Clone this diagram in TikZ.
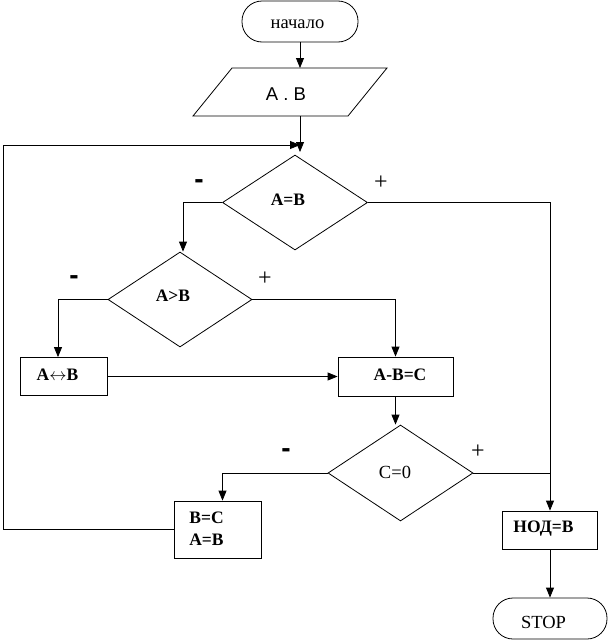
\documentclass[tikz,border=0pt]{standalone}
\usepackage{fontspec}
\setmainfont{Liberation Serif}
\newfontfamily\arialf{Liberation Sans}
\usetikzlibrary{arrows.meta,shapes.geometric}
\begin{document}
\begin{tikzpicture}[x=1pt,y=-1pt,
  line width=0.8pt,
  arr/.style={-{Triangle[length=10pt,width=8pt]}},
  term/.style={draw,rounded corners=20pt,minimum width=#1,minimum height=41pt,inner sep=0pt},
  procbox/.style={draw,inner sep=0pt},
  decis/.style={draw,diamond,inner sep=0pt},
  btxt/.style={font=\fontsize{17.5}{20}\selectfont\bfseries,inner sep=0pt},
  rtxt/.style={font=\fontsize{18.5}{21}\selectfont,inner sep=0pt},
  sgn/.style={font=\fontsize{24}{26}\selectfont,inner sep=0pt},
  mns/.style={font=\arialf\fontsize{28}{30}\selectfont\bfseries,inner sep=0pt}]
\useasboundingbox (0,0) rectangle (608,640);
% start
\node[term=116pt] (start) at (300,21.5) {};
\node[rtxt] (tstart) at (297.5,24) {начало};
% input parallelogram
\draw (232,68) -- (387,68) -- (348,116) -- (193,116) -- cycle;
\node[rtxt,font=\arialf\fontsize{18.5}{21}\selectfont] (io) at (286,94) {A . B};
\coordinate (ioT) at (300,68);
\coordinate (ioB) at (300,116);
\coordinate (merge) at (300,152);
\coordinate (mergeL) at (300,145);
\coordinate (rail) at (3,145);
% decisions
\node[decis,minimum width=145pt,minimum height=95pt] (d1) at (295,202.5) {};
\node[btxt] (t1) at (288,200) {A=B};
\node[decis,minimum width=144pt,minimum height=95pt] (d2) at (180,299.5) {};
\node[btxt] (t2) at (173,296) {A>B};
\node[decis,minimum width=145pt,minimum height=96pt] (d3) at (400.5,473) {};
\node[rtxt] (t3) at (395,472) {C=0};
% boxes
\node[procbox,minimum width=87pt,minimum height=38pt] (swap) at (63.5,376.5) {};
\node[btxt] (tswap) at (57.5,375) {A$\leftrightarrow$B};
\node[procbox,minimum width=115pt,minimum height=39pt] (sub) at (395.5,376.5) {};
\node[btxt] (tsub) at (400,374.5) {A-B=C};
\node[procbox,minimum width=87pt,minimum height=57pt] (bc) at (217.5,529.5) {};
\node[btxt,align=left] (tbc) at (206.5,529) {B=C\\[2pt]A=B};
\node[procbox,minimum width=95pt,minimum height=38pt] (nod) at (550,530) {};
\node[btxt] (tnod) at (543.5,528.5) {НОД=В};
\node[term=114pt] (stop) at (550,618.5) {};
\node[rtxt] (tstop) at (543.5,622) {STOP};
% sign labels
\node[mns] (m1) at (199,184) {-};
\node[sgn] (p1) at (381,183) {+};
\node[mns] (m2) at (74,280) {-};
\node[sgn] (p2) at (265,279) {+};
\node[mns] (m3) at (286,453) {-};
\node[sgn] (p3) at (478,452) {+};
% connectors
\draw[arr] (start.south -| ioT) -- (ioT);
\draw[arr] (ioB) -- (merge);
\draw[arr] (bc.west) -| (rail) -- (mergeL);
\draw[arr] (d1.west) -| ([xshift=3pt]d2.north);
\draw[arr] (d1.east) -| (nod.north);
\draw[arr] (d2.west) -| ([xshift=-5.5pt]swap.north);
\draw[arr] (d2.east) -| (sub.north);
\draw[arr] (swap.east) -- (sub.west);
\draw[arr] (sub.south) -- (sub.south |- d3.north);
\draw[arr] (d3.west) -| ([xshift=5pt]bc.north);
\draw (d3.east) -- (d3.east -| nod.north);
\draw[arr] (nod.south) -- (stop.north);
\end{tikzpicture}
\end{document}
